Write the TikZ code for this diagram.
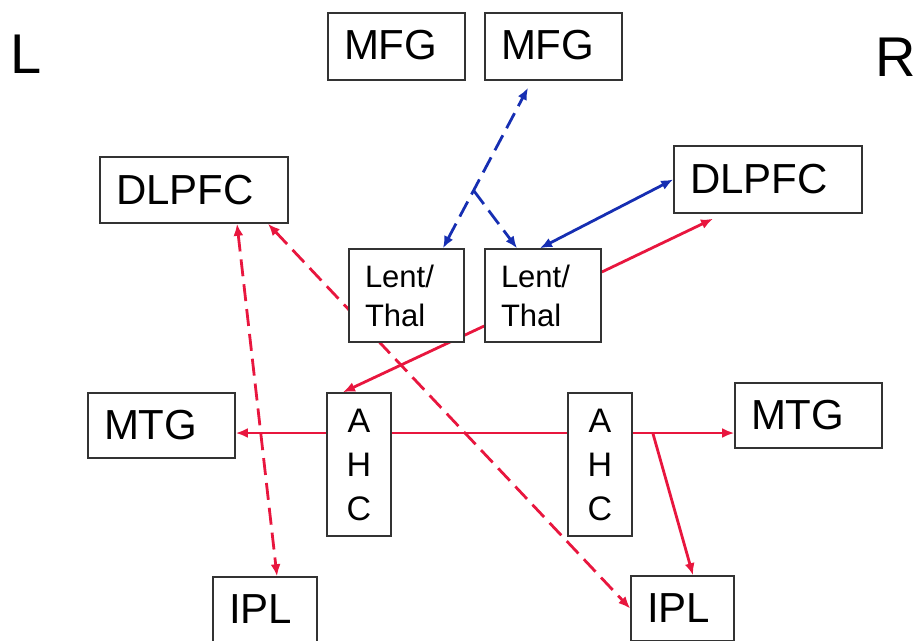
\documentclass[tikz,border=0pt]{standalone}
\usepackage{fontspec}
\setmainfont{Liberation Sans}
\usetikzlibrary{arrows.meta,calc}
\definecolor{linkred}{RGB}{232,22,62}
\definecolor{linkblue}{RGB}{22,46,178}
\pgfdeclarelayer{links}
\pgfsetlayers{links,main}

\begin{document}
\begin{tikzpicture}[x=1pt,y=-1pt,
  region/.style={draw=black!80, line width=1.6pt, fill=white,
    inner ysep=0pt, inner xsep=16pt, align=left,
    font=\fontsize{42}{50}\selectfont},
  small/.style={font=\fontsize{31}{39}\selectfont},
  ahc/.style={align=center, font=\fontsize{34}{44}\selectfont},
  side/.style={anchor=base west, inner sep=0pt,
    font=\fontsize{56}{60}\selectfont},
  >={Latex[length=12pt,width=10pt]},
  redlink/.style={draw=linkred, line width=2.8pt},
  bluelink/.style={draw=linkblue, line width=2.8pt},
  dashlink/.style={dash pattern=on 17pt off 8pt},
]
\useasboundingbox (0,0) rectangle (918,640);

% hemisphere labels
\node[side] (lside) at (10,73) {L};
\node[side] (rside) at (875,76) {R};

% regions
\node[region, text width=105pt, minimum height=67pt, text depth=3pt] (mfgA) at (396.5,46.5) {MFG};
\node[region, text width=105pt, minimum height=67pt, text depth=3pt] (mfgB) at (553.5,46.5) {MFG};
\node[region, text width=156pt, minimum height=66pt] (dlL) at (194,190) {DLPFC};
\node[region, text width=156pt, minimum height=67pt] (dlR) at (768,179.5) {DLPFC};
\node[region, small, text width=83pt, minimum height=93pt] (ltA) at (406.5,295.5) {Lent/\\Thal};
\node[region, small, text width=84pt, minimum height=93pt] (ltB) at (543,295.5) {Lent/\\Thal};
\node[region, ahc, text width=32pt, minimum height=143pt] (ahcL) at (359,464.5) {A\\H\\C};
\node[region, ahc, text width=32pt, minimum height=143pt] (ahcR) at (600,464.5) {A\\H\\C};
\node[region, text width=115pt, minimum height=65pt] (mtgL) at (161.5,425.5) {MTG};
\node[region, text width=115pt, minimum height=65pt] (mtgR) at (808.5,415.5) {MTG};
\node[region, text width=72pt, minimum height=65pt] (iplL) at (265,609.5) {IPL};
\node[region, text width=71pt, minimum height=65pt] (iplR) at (682.5,608.5) {IPL};

% connections, drawn beneath the boxes
\begin{pgfonlayer}{links}
  % auditory cortex outputs
  \draw[redlink, ->] ([yshift=31.5pt]ahcL.west) -- ([yshift=31.5pt]ahcL.west -| mtgL.east);
  \draw[redlink] ([yshift=31.5pt]ahcL.east) -- ([yshift=31.5pt]ahcL.east -| ahcR.west);
  \draw[redlink, ->] ([yshift=31.5pt]ahcR.east) -- ([yshift=31.5pt]ahcR.east -| mtgR.west);
  \coordinate (branch) at ([xshift=20pt,yshift=31.5pt]ahcR.east);
  \draw[redlink, ->] (branch) -- ([xshift=10.5pt]iplR.north);

  % thalamic links
  \draw[redlink, ->] ([yshift=-30.5pt]ltB.west) -- ([xshift=-16pt]ahcL.north);
  \draw[redlink, ->] ([yshift=23.5pt]ltB.east) -- ([xshift=-55pt,yshift=-5pt]dlR.south);
  \draw[bluelink, <->] ([xshift=-3pt]ltB.north) -- (dlR.west);

  % frontal feedback
  \coordinate (mfgTip) at ([xshift=-25.5pt,yshift=-7pt]mfgB.south);
  \coordinate (ltATip) at ([xshift=36.5pt]ltA.north);
  \coordinate (fork) at ($(ltATip)!0.36!(mfgTip)$);
  \draw[bluelink, dashlink, <->] (ltATip) -- (mfgTip);
  \draw[bluelink, dashlink, ->] (fork) -- ([xshift=-26pt]ltB.north);

  % left prefrontal to parietal
  \draw[redlink, dashlink, <->] ([xshift=43pt]dlL.south) -- ([xshift=12pt]iplL.north);
  \draw[redlink, dashlink, <->] ([xshift=74pt]dlL.south) -- (iplR.west);
\end{pgfonlayer}
\end{tikzpicture}
\end{document}
